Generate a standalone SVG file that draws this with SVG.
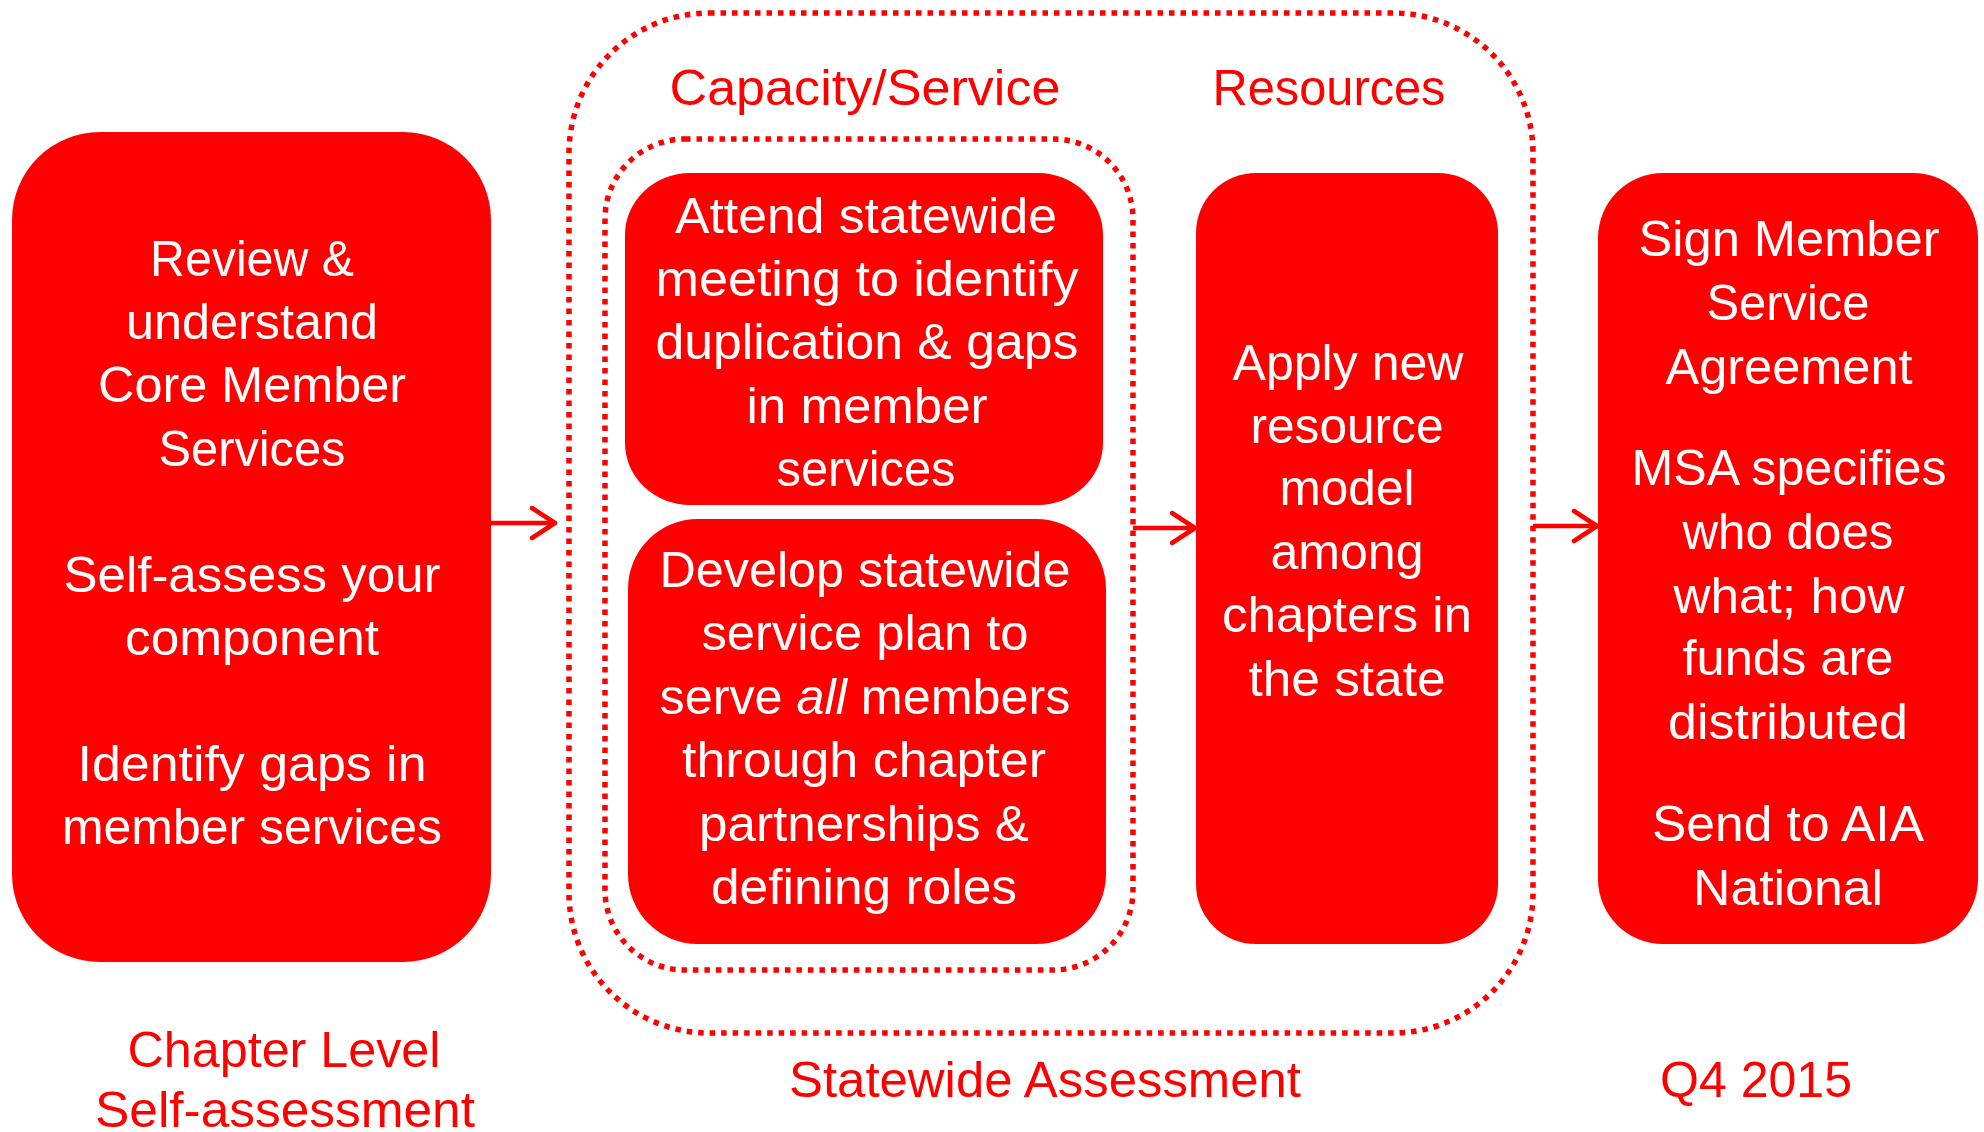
<svg xmlns="http://www.w3.org/2000/svg" width="1984" height="1132" viewBox="0 0 1984 1132">
<defs>
<style>
.box{fill:#FE0000;}
.dot{fill:none;stroke:#FE0000;stroke-width:5.5;stroke-dasharray:5.5 6;}
.conn{fill:none;stroke:#FE0000;stroke-width:4.5;}
.wt{fill:#FFFFFF;font-family:"Liberation Sans",Arial,sans-serif;font-size:50px;text-anchor:middle;}
.rt{fill:#FE0000;font-family:"Liberation Sans",Arial,sans-serif;font-size:50px;text-anchor:middle;}
</style>
<marker id="arr" markerUnits="userSpaceOnUse" viewBox="-30 -20 36 40" markerWidth="36" markerHeight="40" refX="0" refY="0" orient="auto" overflow="visible">
<path d="M -23 -15 L 0 0 L -23 15" fill="none" stroke="#FE0000" stroke-width="4.5" stroke-linecap="round" stroke-linejoin="round"/>
</marker>
</defs>
<rect width="1984" height="1132" fill="#FFFFFF"/>

<g id="group-statewide">
<rect class="dot" x="569" y="13" width="964" height="1020" rx="140" ry="140"/>
<text class="rt" x="1045" y="1097" textLength="512" lengthAdjust="spacingAndGlyphs">Statewide Assessment</text>
</g>
<g id="group-capacity">
<rect class="dot" x="605" y="139" width="528" height="831" rx="80" ry="80"/>
<text class="rt" x="865" y="105" textLength="391" lengthAdjust="spacingAndGlyphs">Capacity/Service</text>
</g>
<g id="label-resources">
<text class="rt" x="1329" y="105" textLength="233" lengthAdjust="spacingAndGlyphs">Resources</text>
</g>

<g id="node-chapter">
<rect class="box" x="12" y="132" width="479" height="830" rx="88" ry="88"/>
<text class="wt" x="252" y="276" textLength="204" lengthAdjust="spacingAndGlyphs">Review &amp;</text>
<text class="wt" x="252" y="339" textLength="252" lengthAdjust="spacingAndGlyphs">understand</text>
<text class="wt" x="252" y="402" textLength="308" lengthAdjust="spacingAndGlyphs">Core Member</text>
<text class="wt" x="252" y="466" textLength="187" lengthAdjust="spacingAndGlyphs">Services</text>
<text class="wt" x="252" y="592" textLength="377" lengthAdjust="spacingAndGlyphs">Self-assess your</text>
<text class="wt" x="252" y="655" textLength="254" lengthAdjust="spacingAndGlyphs">component</text>
<text class="wt" x="252" y="781" textLength="349" lengthAdjust="spacingAndGlyphs">Identify gaps in</text>
<text class="wt" x="252" y="844" textLength="380" lengthAdjust="spacingAndGlyphs">member services</text>
</g>
<g id="label-chapter">
<text class="rt" x="284" y="1067" textLength="313" lengthAdjust="spacingAndGlyphs">Chapter Level</text>
<text class="rt" x="285" y="1127" textLength="380" lengthAdjust="spacingAndGlyphs">Self-assessment</text>
</g>

<g id="node-attend">
<rect class="box" x="625" y="173" width="478" height="332" rx="65" ry="62"/>
<text class="wt" x="866" y="233" textLength="382" lengthAdjust="spacingAndGlyphs">Attend statewide</text>
<text class="wt" x="867" y="296" textLength="423" lengthAdjust="spacingAndGlyphs">meeting to identify</text>
<text class="wt" x="867" y="359" textLength="423" lengthAdjust="spacingAndGlyphs">duplication &amp; gaps</text>
<text class="wt" x="867" y="423" textLength="241" lengthAdjust="spacingAndGlyphs">in member</text>
<text class="wt" x="866" y="486" textLength="179" lengthAdjust="spacingAndGlyphs">services</text>
</g>

<g id="node-develop">
<rect class="box" x="628" y="519" width="478" height="425" rx="70" ry="70"/>
<text class="wt" x="865" y="587" textLength="411" lengthAdjust="spacingAndGlyphs">Develop statewide</text>
<text class="wt" x="865" y="650" textLength="327" lengthAdjust="spacingAndGlyphs">service plan to</text>
<text class="wt" x="865" y="714" textLength="411" lengthAdjust="spacingAndGlyphs">serve <tspan font-style="italic">all</tspan> members</text>
<text class="wt" x="864" y="777" textLength="364" lengthAdjust="spacingAndGlyphs">through chapter</text>
<text class="wt" x="864" y="841" textLength="330" lengthAdjust="spacingAndGlyphs">partnerships &amp;</text>
<text class="wt" x="864" y="904" textLength="306" lengthAdjust="spacingAndGlyphs">defining roles</text>
</g>

<g id="node-resources">
<rect class="box" x="1196" y="173" width="302" height="771" rx="60" ry="60"/>
<text class="wt" x="1348" y="380" textLength="231" lengthAdjust="spacingAndGlyphs">Apply new</text>
<text class="wt" x="1347" y="443" textLength="193" lengthAdjust="spacingAndGlyphs">resource</text>
<text class="wt" x="1347" y="505" textLength="135" lengthAdjust="spacingAndGlyphs">model</text>
<text class="wt" x="1347" y="569" textLength="153" lengthAdjust="spacingAndGlyphs">among</text>
<text class="wt" x="1347" y="632" textLength="250" lengthAdjust="spacingAndGlyphs">chapters in</text>
<text class="wt" x="1347" y="696" textLength="197" lengthAdjust="spacingAndGlyphs">the state</text>
</g>

<g id="node-msa">
<rect class="box" x="1598" y="173" width="380" height="771" rx="65" ry="65"/>
<text class="wt" x="1789" y="256" textLength="301" lengthAdjust="spacingAndGlyphs">Sign Member</text>
<text class="wt" x="1788" y="320" textLength="163" lengthAdjust="spacingAndGlyphs">Service</text>
<text class="wt" x="1789" y="384" textLength="247" lengthAdjust="spacingAndGlyphs">Agreement</text>
<text class="wt" x="1789" y="485" textLength="315" lengthAdjust="spacingAndGlyphs">MSA specifies</text>
<text class="wt" x="1788" y="549" textLength="211" lengthAdjust="spacingAndGlyphs">who does</text>
<text class="wt" x="1789" y="613" textLength="231" lengthAdjust="spacingAndGlyphs">what; how</text>
<text class="wt" x="1788" y="675" textLength="211" lengthAdjust="spacingAndGlyphs">funds are</text>
<text class="wt" x="1788" y="739" textLength="240" lengthAdjust="spacingAndGlyphs">distributed</text>
<text class="wt" x="1788" y="841" textLength="272" lengthAdjust="spacingAndGlyphs">Send to AIA</text>
<text class="wt" x="1788" y="905" textLength="190" lengthAdjust="spacingAndGlyphs">National</text>
</g>
<g id="label-q4">
<text class="rt" x="1756" y="1097" textLength="192" lengthAdjust="spacingAndGlyphs">Q4 2015</text>
</g>

<g id="connectors">
<line class="conn" x1="491" y1="523" x2="555" y2="523" marker-end="url(#arr)"/>
<line class="conn" x1="1133" y1="528" x2="1195" y2="528" marker-end="url(#arr)"/>
<line class="conn" x1="1533" y1="526" x2="1597" y2="526" marker-end="url(#arr)"/>
</g>
</svg>
